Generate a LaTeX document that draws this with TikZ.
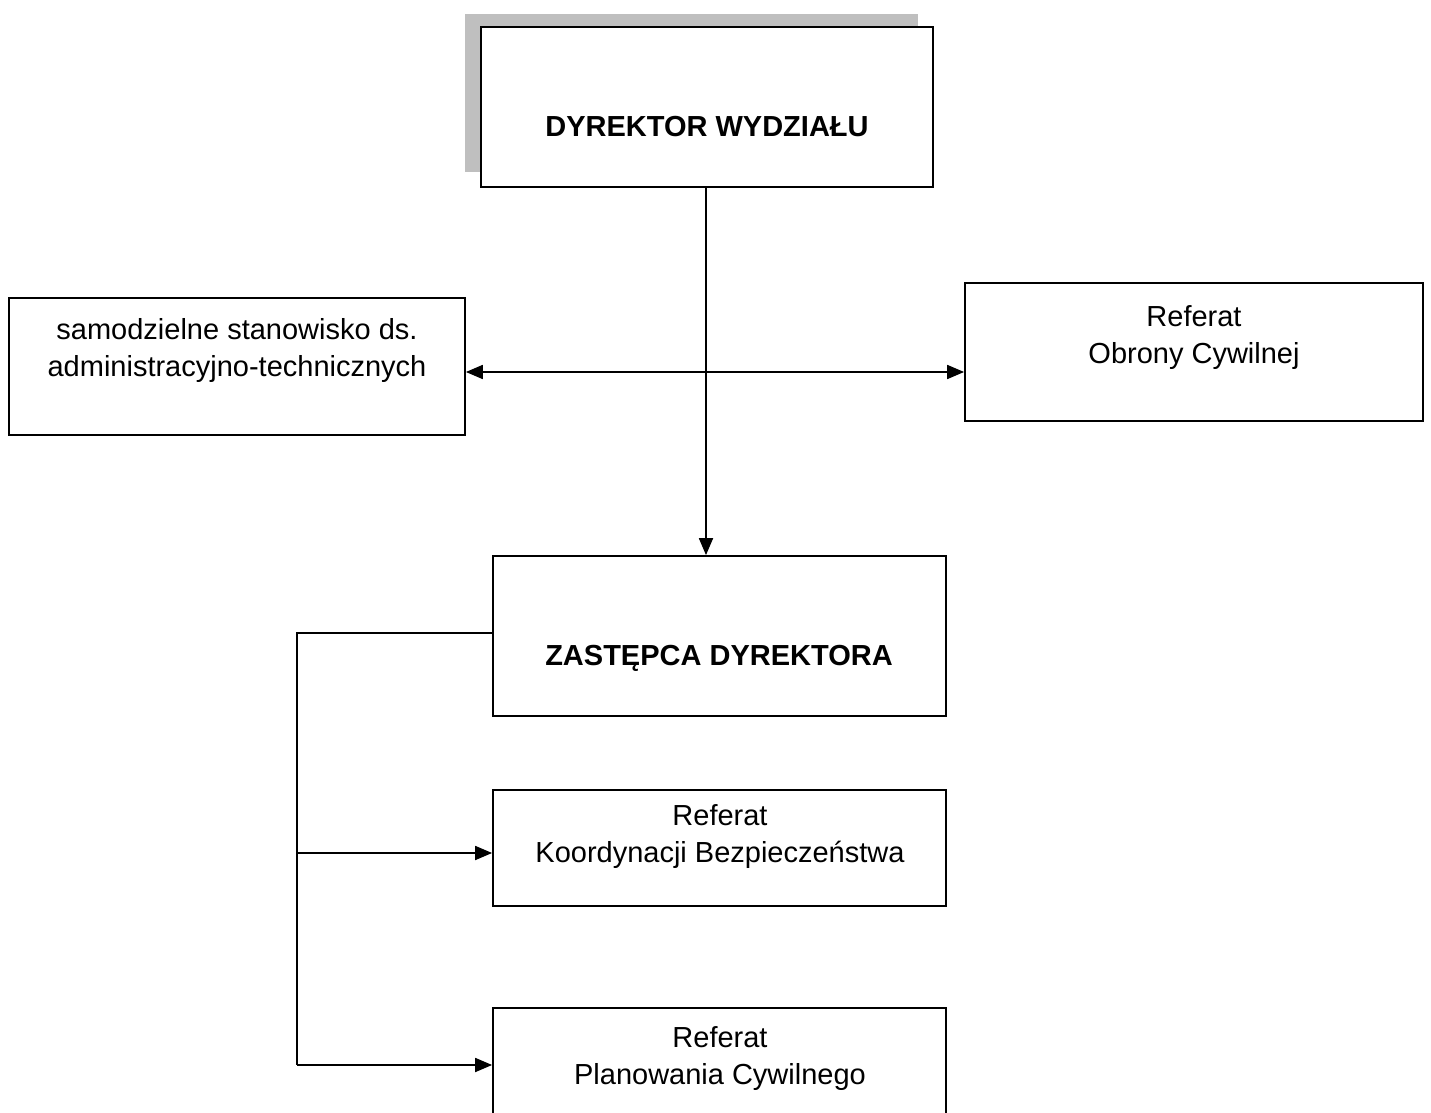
\documentclass[tikz,border=0pt]{standalone}
\usepackage{fontspec}
\setmainfont{Liberation Sans}
\usetikzlibrary{arrows.meta,fit,calc}

\begin{document}
\begin{tikzpicture}[x=0.5pt,y=-0.5pt,
  box/.style={draw=black,line width=0.9pt,fill=white,inner sep=0pt,rectangle},
  shade/.style={fill=gray!50,draw=none,inner sep=0pt},
  txt/.style={font=\fontsize{14.5}{18.5}\selectfont,align=center,inner sep=0pt,anchor=base},
  btxt/.style={txt,font=\fontsize{14.5}{18.5}\selectfont\bfseries},
  link/.style={line width=0.9pt},
  tip/.style={Triangle[length=8.5pt,width=7pt]},
  arr/.style={link,-{Triangle[length=8.5pt,width=7pt]}},
  darr/.style={link,{Triangle[length=8.5pt,width=7pt]}-{Triangle[length=8.5pt,width=7pt]}}]

\clip (0,0) rectangle (1431,1113);
\fill[white] (0,0) rectangle (1431,1113);

% director, with its grey shadow band
\node[shade,fit={(465,14) (918,172)}] (dirshade) {};
\node[box,fit={(481,27) (933,187)}] (dir) {};
\node[btxt] (dirt) at (707,137) {DYREKTOR WYDZIAŁU};

% side units (multi-line labels are anchored at the last baseline)
\node[box,fit={(9,298) (465,435)}] (sam) {};
\node[txt] (samt) at (237,376) {samodzielne stanowisko ds.\\administracyjno-technicznych};
\node[box,fit={(965,283) (1423,421)}] (obr) {};
\node[txt] (obrt) at (1194,363) {Referat\\Obrony Cywilnej};

% deputy director
\node[box,fit={(493,556) (946,716)}] (zas) {};
\node[btxt] (zast) at (719,665) {ZASTĘPCA DYREKTORA};

% units under the deputy
\node[box,fit={(493,790) (946,906)}] (koo) {};
\node[txt] (koot) at (720,862) {Referat\\Koordynacji Bezpieczeństwa};
\node[box,fit={(493,1008) (946,1130)}] (pla) {};
\node[txt] (plat) at (720,1084) {Referat\\Planowania Cywilnego};

% connectors
\coordinate (trunkTop) at (297,633);
\coordinate (brKoo) at (297,853);
\coordinate (brPla) at (297,1065);
\draw[arr] (dir.south -| 706,0) -- (zas.north -| 706,0);
\draw[darr] (sam.east |- 0,372) -- (obr.west |- 0,372);
\draw[link] (zas.west |- trunkTop) -- (trunkTop) -- (brPla);
\draw[arr] (brKoo) -- (koo.west |- brKoo);
\draw[arr] (brPla) -- (pla.west |- brPla);
\end{tikzpicture}
\end{document}
